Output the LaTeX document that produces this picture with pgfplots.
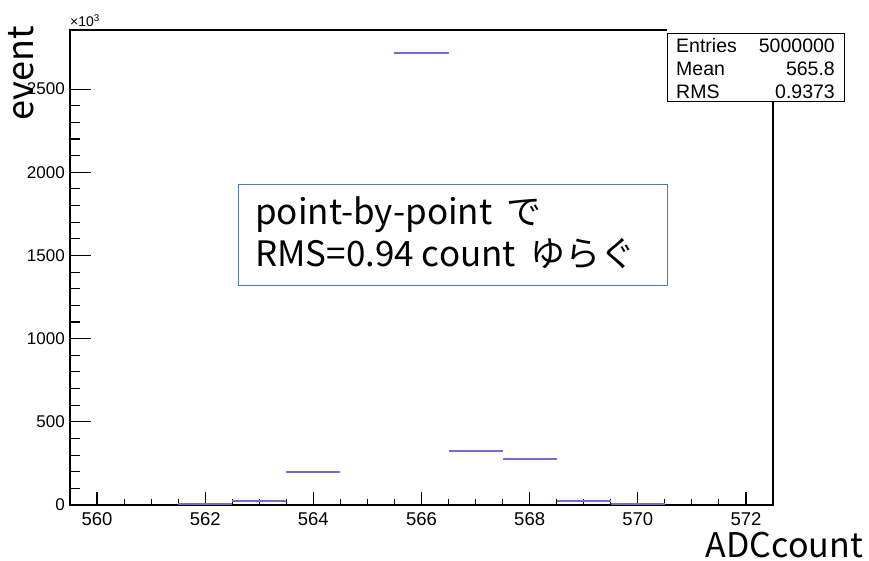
\documentclass[border=0pt]{standalone}
\usepackage{pgfplots}
\pgfplotsset{compat=1.18}
\usepackage{fontspec}
\setmainfont{Liberation Sans}
\newfontfamily\jpfont{Noto Sans CJK JP}
\definecolor{histc}{RGB}{112,110,200}
\definecolor{boxc}{RGB}{84,122,182}

% ADC counts per bin (in units of 10^3 events); ex = half bin width
\pgfplotstableread{
x    y     ex
562  4     0.5
563  22    0.5
564  200   0.5
565  1434  0.5
566  2719  0.5
567  325   0.5
568  276   0.5
569  22    0.5
570  4     0.5
}\adcdata

\begin{document}
\begin{tikzpicture}[x=1pt,y=1pt]
\path[use as bounding box] (-70,-56) rectangle (799,505);
\begin{axis}[
  at={(0,0)}, anchor=south west, scale only axis,
  width=703pt, height=475pt,
  xmin=559.5, xmax=572.5, ymin=0, ymax=2855,
  xtick={560,562,...,572}, minor x tick num=3,
  ytick={0,500,...,2500}, minor y tick num=4,
  tick pos=left, tick align=inside,
  major tick length=21pt, minor tick length=10pt,
  xtick style={/pgfplots/major tick length=13pt, /pgfplots/minor tick length=6pt},
  axis line style={line width=1.2pt},
  every tick/.style={black, line width=1.1pt},
  scaled ticks=false,
  /pgf/number format/assume math mode=true,
  /pgf/number format/1000 sep={},
  xticklabel style={font=\fontsize{18.5}{18.5}\selectfont, inner sep=0pt, yshift=-7pt},
  yticklabel style={font=\fontsize{17}{17}\selectfont, inner sep=0pt, xshift=-5pt},
]
\addplot[draw=none, mark=none,
  error bars/.cd, x dir=both, x explicit, error mark=none,
  error bar style={draw=histc, line width=2pt}]
  table[x=x, y=y, x error=ex] {\adcdata};
\end{axis}

% axis titles and exponent
\node[anchor=base west, inner sep=0pt, font=\fontsize{14}{14}\selectfont] at (0,478) {×10\textsuperscript{3}};
\node[rotate=90, anchor=base east, inner sep=0pt, font=\jpfont\fontsize{36}{36}\selectfont] at (-36,479) {event};
\node[anchor=base east, inner sep=0pt, font=\jpfont\fontsize{34}{34}\selectfont] at (793,-53) {ADCcount};

% annotation box
\node[draw=boxc, line width=1.2pt, fill=white, minimum width=429pt, minimum height=101pt, anchor=north west, inner sep=0pt] at (168,321) {};
\node[anchor=base west, inner sep=0pt, font=\jpfont\fontsize{35}{35}\selectfont] at (185,280) {point-by-point\hspace{0.4em}で};
\node[anchor=base west, inner sep=0pt, font=\jpfont\fontsize{35}{35}\selectfont] at (185,238) {RMS=0.94 count\hspace{0.2em} ゆらぐ};

% statistics box
\fill[white] (597,471) rectangle (776,478);
\node[draw=black, line width=1pt, fill=white, minimum width=177pt, minimum height=68pt, anchor=north west, inner sep=0pt] at (597,472) {};
\begin{scope}[every node/.style={inner sep=0pt, font=\fontsize{19.5}{19.5}\selectfont}]
\node[anchor=west] at (606,459) {Entries};
\node[anchor=west] at (606,436) {Mean};
\node[anchor=west] at (606,413) {RMS};
\node[anchor=east] at (765,459) {5000000};
\node[anchor=east] at (765,436) {565.8};
\node[anchor=east] at (765,413) {0.9373};
\end{scope}
\end{tikzpicture}
\end{document}
